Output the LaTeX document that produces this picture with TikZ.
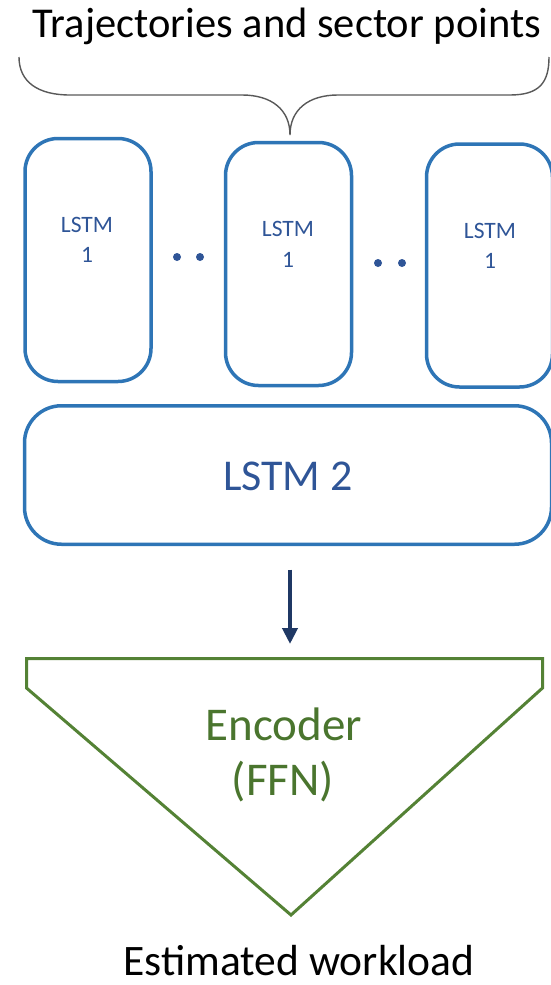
\documentclass[tikz,border=0pt]{standalone}
\usepackage{fontspec}
\setmainfont{Carlito}
\usetikzlibrary{arrows.meta}

\definecolor{boxblue}{HTML}{2E75B6}
\definecolor{textblue}{HTML}{2F5597}
\definecolor{encgreen}{HTML}{548235}
\definecolor{enctext}{HTML}{4A752E}
\definecolor{navy}{HTML}{1F3864}
\definecolor{bracegray}{HTML}{595959}

\begin{document}
\begin{tikzpicture}[x=1pt, y=-1pt,
  lstmbox/.style={draw=boxblue, line width=3.5pt, rounded corners=33pt,
    minimum width=126pt, minimum height=243pt, inner sep=0pt},
  widebox/.style={draw=boxblue, line width=3.5pt, rounded corners=37pt,
    minimum width=527pt, minimum height=138.5pt, inner sep=0pt},
  smalllbl/.style={anchor=base, inner sep=0pt, text=textblue,
    font=\fontsize{23.5}{28}\selectfont},
  widelbl/.style={anchor=base, inner sep=0pt, text=textblue,
    font=\fontsize{44}{52}\selectfont},
  enclbl/.style={anchor=base, inner sep=0pt, text=enctext,
    font=\fontsize{47}{55}\selectfont},
  titlelbl/.style={anchor=base, inner sep=0pt, text=black,
    font=\fontsize{42.5}{50}\selectfont},
  outlbl/.style={anchor=base, inner sep=0pt, text=black,
    font=\fontsize{43.5}{50}\selectfont},
  dotnode/.style={circle, fill=textblue, minimum size=8pt, inner sep=0pt},
  funnel/.style={draw=encgreen, line width=3pt, line join=miter},
  bracepath/.style={draw=bracegray, line width=1.4pt},
  flow/.style={draw=navy, line width=4pt,
    -{Triangle[width=15pt, length=16pt]}},
]
\useasboundingbox (0,0) rectangle (551,985);

% title and the brace gathering the inputs
\node[titlelbl] (title) at (287,37) {Trajectories and sector points};
\coordinate (braceL) at (19,57);
\coordinate (braceR) at (549,57);
\coordinate (braceTip) at (290,135);
\draw[bracepath] (braceL) .. controls (19,82) and (38,95) .. (70,95)
  -- (242,95) .. controls (272,95) and (290,110) .. (braceTip)
  .. controls (290,110) and (308,95) .. (338,95)
  -- (510,95) .. controls (540,95) and (549,82) .. (braceR);

% first LSTM layer
\node[lstmbox] (box1) at (88,260) {};
\node[lstmbox] (box2) at (288.5,264) {};
\node[lstmbox] (box3) at (489.5,265.5) {};
\node[smalllbl] (box1a) at (87,232) {LSTM};
\node[smalllbl] (box1b) at (87,262) {1};
\node[smalllbl] (box2a) at (288,236) {LSTM};
\node[smalllbl] (box2b) at (288,267) {1};
\node[smalllbl] (box3a) at (490,238) {LSTM};
\node[smalllbl] (box3b) at (490,268) {1};

% ellipsis dots between the cells
\node[dotnode] (dotA1) at (177,257) {};
\node[dotnode] (dotA2) at (200,257) {};
\node[dotnode] (dotB1) at (378,263) {};
\node[dotnode] (dotB2) at (402,263) {};

% second LSTM layer
\node[widebox] (lstm2) at (288,475) {};
\node[widelbl] (lstm2lbl) at (288,490) {LSTM 2};

% encoder funnel
\coordinate (fTL) at (26.5,658.5);
\coordinate (fTR) at (542.5,658.5);
\coordinate (fR) at (542.5,688);
\coordinate (fTip) at (291,915);
\coordinate (fL) at (26.5,688);
\coordinate (encTop) at (290,658.5);
\draw[funnel] (fTL) -- (fTR) -- (fR) -- (fTip) -- (fL) -- cycle;
\node[enclbl] (enc1) at (284,740) {Encoder};
\node[enclbl] (enc2) at (283,795) {(FFN)};

% flow from the second LSTM layer into the encoder
\draw[flow, shorten <=23.5pt, shorten >=14.5pt] (lstm2.south -| encTop) -- (encTop);

% output
\node[outlbl] (output) at (299,975) {Estimated workload};
\end{tikzpicture}
\end{document}
